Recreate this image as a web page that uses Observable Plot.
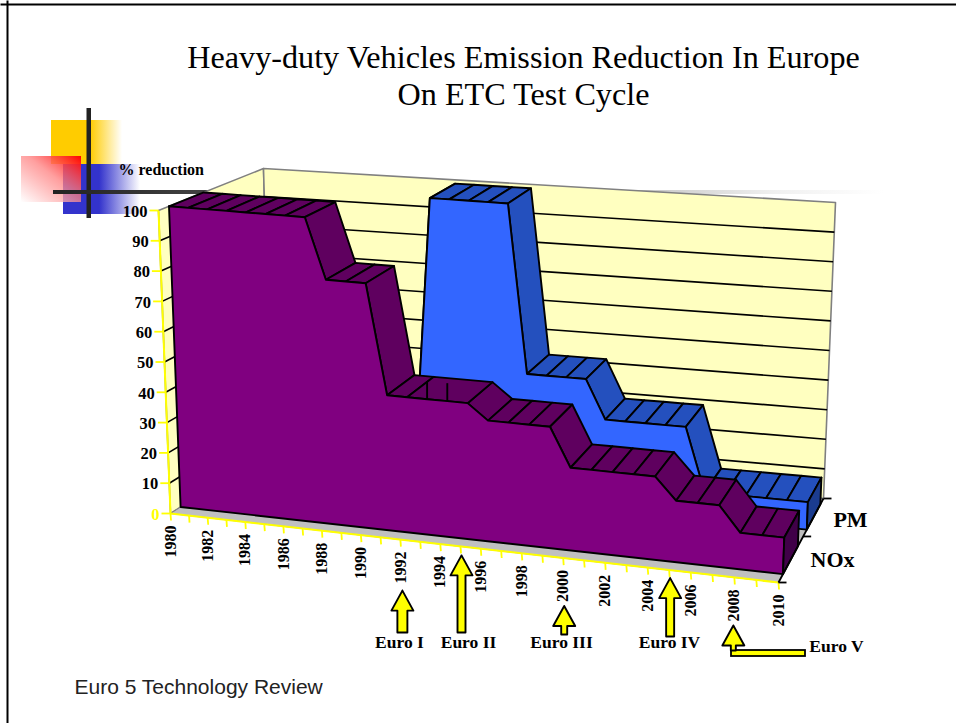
<!DOCTYPE html>
<html>
<head>
<meta charset="utf-8">
<style>html,body{margin:0;padding:0;background:#fff}svg{display:block}</style>
<script src="https://cdn.jsdelivr.net/npm/d3@7"></script>
<script src="https://cdn.jsdelivr.net/npm/@observablehq/plot@0.6"></script>
</head>
<body>
<script>
// ---- chart values ----
const years = [1980,1981,1982,1983,1984,1985,1986,1987,1988,1989,1990,1991,1992,1993,1994,1995,1996,1997,1998,1999,2000,2001,2002,2003,2004,2005,2006,2007,2008,2009,2010];
const nox = [100,100,100,100,100,100,100,100,80,80,80,44,44,44,44,44,39,39,39,39,26.5,26.5,26.5,26.5,26.5,19.5,19.5,19.5,11.5,11.5,11.5];
const pm  = [0,0,0,0,0,0,0,0,0,0,0,100,100,100,100,100,43,43,43,43,30,30,30,30,30,9,9,9,9,9,9];
const yearLabels = [1980,1982,1984,1986,1988,1990,1992,1994,1996,1998,2000,2002,2004,2006,2008,2010];
const valueTicks = [0,10,20,30,40,50,60,70,80,90,100];
const stageNames = ["Euro I","Euro II","Euro III","Euro IV","Euro V"];
const stageYears = [1992,1995,2000,2005,2008];
const stageGap   = [51,9,48,8,48];   // distance axis -> arrow tip
const stageTail  = [632,632,634,636,650];
const titleLines = ["Heavy-duty Vehicles Emission Reduction In Europe","On ETC Test Cycle"];
const seriesNames = ["NOx","PM"];
const seriesBands = [[0.10,0.43],[0.63,0.93]];
const blockedYears = [1993,1994];  // NOx stripes that are drawn square where the PM wall cuts them

// ---- 3-D box: the projection of (year, value, depth) ----
const box = {
  f0:[170,513], f1:[778,582], b0:[271,448], b1:[823,498],
  F0:[158,210], F1:[789,262], B0:[263,168], B1:[835,202]
};
const lerp = (a,b,t)=>[a[0]+(b[0]-a[0])*t, a[1]+(b[1]-a[1])*t];
function proj(year, value, w){
  const u0=(year-1980)/30, u=u0*0.912/(1-0.088*u0), v=value/100;
  const low = lerp(lerp(box.f0,box.f1,u), lerp(box.b0,box.b1,u), w);
  const top = lerp(lerp(box.F0,box.F1,u), lerp(box.B0,box.B1,u), w);
  return lerp(low,top,v);
}
const ptsOf=(id,list)=>{const c=list.concat([list[0]]);return c.map(p=>({id,x:p[0],y:p[1]}));};
const polyMark=(polys,fill,sw=1.9,stroke="#000")=>Plot.line(polys.flat(),{x:"x",y:"y",z:"id",fill,stroke,strokeWidth:sw,curve:"linear",strokeLinejoin:"round"});

function seriesMarks(name, vals, band, cFront, cTop, cCap, merged=[]){
  const [w0,w1]=band;
  const tops=[];
  vals.forEach((v,i)=>{ if(i===0) return;
    if(merged.includes(years[i-1])||merged.includes(years[i])) return;
    tops.push(ptsOf(name+"t"+i,[proj(years[i-1],vals[i-1],w0),proj(years[i],v,w0),proj(years[i],v,w1),proj(years[i-1],vals[i-1],w1)]));
  });
  const marks=[];
  if(merged.length){
    const a=merged[0]-1,b=merged[merged.length-1]+1,va=vals[years.indexOf(a)],vb=vals[years.indexOf(b)];
    tops.push(ptsOf(name+"m",[proj(a,va,w0),proj(b,vb,w0),proj(b,vb,w1),proj(a,va,w1)]));
  }
  marks.push(polyMark(tops,cTop));
  if(merged.length){
    marks.push(seg(merged.map(y=>{const p=proj(y,vals[years.indexOf(y)],w0);return [p,[p[0],p[1]-18]];}),{stroke:"#000",strokeWidth:1.9}));
  }
  const front=[proj(1980,0,w0)].concat(vals.map((v,i)=>proj(years[i],v,w0))).concat([proj(2010,0,w0)]);
  const cap=[proj(2010,0,w0),proj(2010,vals[30],w0),proj(2010,vals[30],w1),proj(2010,0,w1)];
  marks.push(polyMark([ptsOf(name+"f",front)],cFront), polyMark([ptsOf(name+"c",cap)],cCap));
  return marks;
}

function seg(rows,opt){return Plot.link(rows,{x1:d=>d[0][0],y1:d=>d[0][1],x2:d=>d[1][0],y2:d=>d[1][1],...opt});}
const serif="Liberation Serif";

// arrows
const arrowPolys=stageYears.map((yr,i)=>{
  const a=proj(yr,0,0), x=a[0]+(i===0?2:i===4?-1:1), tip=a[1]+stageGap[i], base=tip+20, tail=stageTail[i];
  const s=i===0?5:i===1?4:i===2?3:i===3?4:2.5;
  return ptsOf("arrow"+i,[[x,tip],[x+11,base],[x+s,base],[x+s,tail],[x-s,tail],[x-s,base],[x-11,base]]);
});
const stageLabelX=[399,468,561,669,836], stageLabelY=[642,642,642,642,646];

const defsMark=()=>{
  const g=d3.create("svg:g");
  const defs=g.append("defs");
  const grad=(id,c,solid)=>{const l=defs.append("linearGradient").attr("id",id);
    l.append("stop").attr("offset",0).attr("stop-color",c);
    l.append("stop").attr("offset",solid).attr("stop-color",c);
    l.append("stop").attr("offset",1).attr("stop-color","#fff");};
  grad("gy","#FFCC00",0.55); grad("gb","#3333CC",0.47);
  const r=defs.append("linearGradient").attr("id","gr").attr("x1",1).attr("y1",0).attr("x2",0).attr("y2",1);
  r.append("stop").attr("offset",0).attr("stop-color","#FF0000");
  r.append("stop").attr("offset",0.45).attr("stop-color","#FF8080").attr("stop-opacity",0.75);
  r.append("stop").attr("offset",1).attr("stop-color","#FFFFFF").attr("stop-opacity",0.8);
  const h=defs.append("linearGradient").attr("id","gh");
  h.append("stop").attr("offset",0).attr("stop-color","#222");
  h.append("stop").attr("offset",0.18).attr("stop-color","#444");
  h.append("stop").attr("offset",0.8).attr("stop-color","#f0f0f0");
  h.append("stop").attr("offset",0.92).attr("stop-color","#fff");
  return g.node();
};

const rect=(x1,x2,y1,y2,fill,extra={})=>Plot.rect([{x1,x2,y1,y2}],{x1:"x1",x2:"x2",y1:"y1",y2:"y2",fill,...extra});

const gridBack=valueTicks.map(v=>[lerp(box.b0,box.B0,v/100),lerp(box.b1,box.B1,v/100)]);
const gridLeft=valueTicks.slice(1,10).map(v=>[lerp(box.f0,box.F0,v/100),lerp(box.b0,box.B0,v/100)]);
const yTicks=valueTicks.map(v=>{const p=lerp(box.f0,box.F0,v/100);return [[p[0]-9,p[1]],[p[0],p[1]]];});
const xTicks=years.map(y=>{const p=proj(y,0,0);return [p,[p[0]+0.5,p[1]+7]];});
const depthTicks=[0,0.548,1].map(w=>{const p=lerp(box.f1,box.b1,w);return [[p[0],p[1]],[p[0]+8,p[1]]];});

const plot=Plot.plot({
  width:956,height:723,margin:0,
  x:{domain:[0,956],range:[0,956],axis:null},
  y:{domain:[0,723],range:[0,723],axis:null},
  marks:[
    defsMark,
    // slide frame
    seg([[[0,4],[956,4]],[[7,0],[7,723]]],{stroke:"#000",strokeWidth:2}),
    // template decoration
    rect(51,122,120,164,"url(#gy)"),
    rect(63,140,164,214,"url(#gb)"),
    rect(21,81,156,202,"url(#gr)"),
    rect(86.5,91,108,218,"#222"),
    rect(53,956,190,194,"url(#gh)"),
    // title
    Plot.text(titleLines.map((t,i)=>({t,i})),{x:523,y:d=>57+d.i*37,text:"t",fontFamily:serif,fontSize:32.2,fill:"#000",textAnchor:"middle",lineAnchor:"middle"}),
    // walls and floor
    polyMark([ptsOf("left",[box.f0,box.F0,box.B0,box.b0])],"#FFFFC0",1.6,"#808080"),
    polyMark([ptsOf("back",[box.B0,box.B1,box.b1,box.b0])],"#FFFFC0",1.6,"#808080"),
    polyMark([ptsOf("floor",[box.f0,box.f1,box.b1,box.b0])],"#C0C0C0",1,"#808080"),
    seg(gridBack.slice(1,10),{stroke:"#000",strokeWidth:1.6}),
    seg(gridLeft,{stroke:"#000",strokeWidth:1.6}),
    // series, back to front
    ...seriesMarks(seriesNames[1],pm,seriesBands[1],"#3366FF","#2450BE","#1B3C90"),
    ...seriesMarks(seriesNames[0],nox,seriesBands[0],"#800080","#5F005F","#400048",blockedYears),
    // axes
    seg([[box.f0,box.F0],[box.f0,box.f1]],{stroke:"#FFFF00",strokeWidth:2}),
    seg(yTicks,{stroke:"#FFFF00",strokeWidth:1.8}),
    seg(xTicks,{stroke:"#FFFF00",strokeWidth:1.8}),
    seg([[box.f1,box.b1]],{stroke:"#000",strokeWidth:1.8}),
    seg(depthTicks,{stroke:"#000",strokeWidth:1.8}),
    // tick labels
    Plot.text(valueTicks,{x:d=>lerp(box.f0,box.F0,d/100)[0]-11,y:d=>lerp(box.f0,box.F0,d/100)[1]+1,text:d=>String(d),fontFamily:serif,fontWeight:"bold",fontSize:16.5,textAnchor:"end",lineAnchor:"middle",fill:d=>d===0?"#FFFF00":"#000"}),
    Plot.text(yearLabels,{x:d=>proj(d,0,0)[0],y:d=>proj(d,0,0)[1]+28,text:d=>String(d),rotate:-90,fontFamily:serif,fontWeight:"bold",fontSize:16,textAnchor:"middle",lineAnchor:"middle",fill:"#000"}),
    Plot.text(["% reduction"],{x:118,y:169,text:d=>d,fontFamily:serif,fontWeight:"bold",fontSize:16,textAnchor:"start",lineAnchor:"middle",fill:"#000"}),
    Plot.text(seriesNames,{x:(d,i)=>[832,850][i],y:(d,i)=>[559,519][i],text:d=>d,fontFamily:serif,fontWeight:"bold",fontSize:22,textAnchor:"middle",lineAnchor:"middle",fill:"#000"}),
    // euro stage arrows
    rect(731,805,650,656,"#FFFF00",{stroke:"#000",strokeWidth:1.8}),
    polyMark(arrowPolys,"#FFFF00",1.9),
    Plot.text(stageNames,{x:(d,i)=>stageLabelX[i],y:(d,i)=>stageLabelY[i],text:d=>d,fontFamily:serif,fontWeight:"bold",fontSize:17.5,textAnchor:"middle",lineAnchor:"middle",fill:"#000"}),
    Plot.text(["Euro 5 Technology Review"],{x:74,y:687,text:d=>d,fontFamily:"Liberation Sans",fontSize:21,textAnchor:"start",lineAnchor:"middle",fill:"#222"})
  ]
});
document.body.appendChild(plot);
</script>
</body>
</html>
